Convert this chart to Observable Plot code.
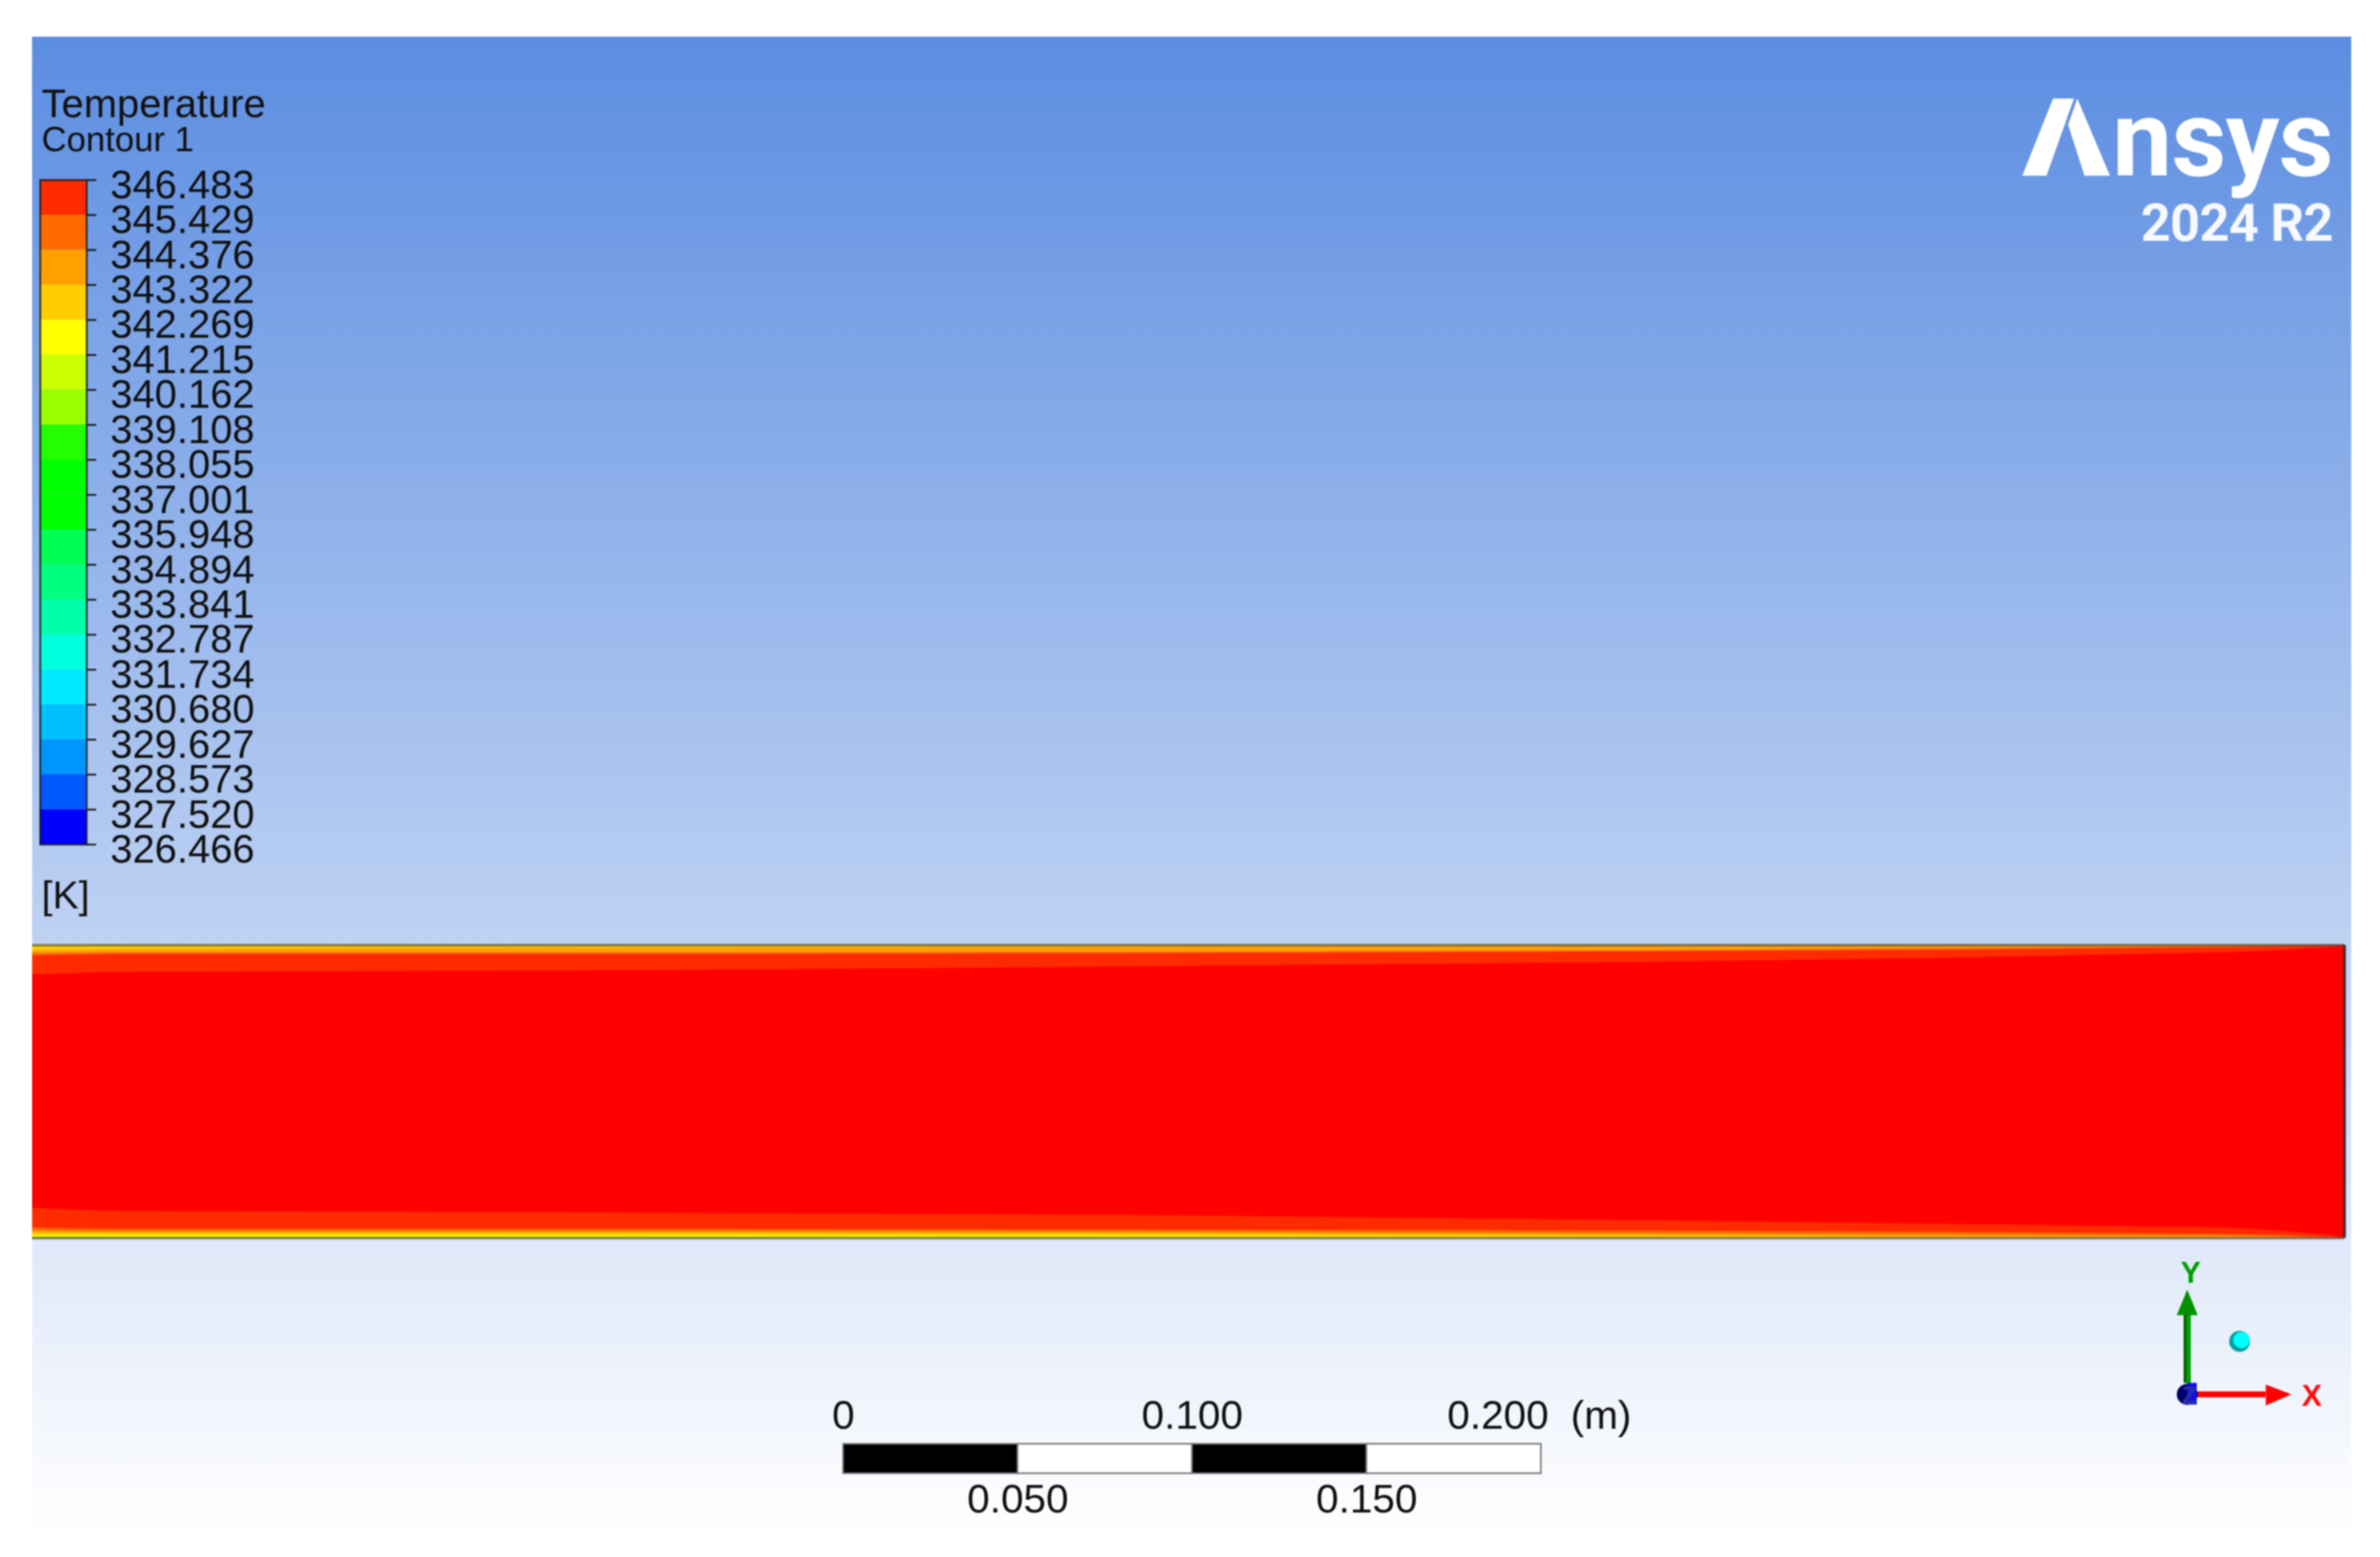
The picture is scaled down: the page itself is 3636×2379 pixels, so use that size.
<!DOCTYPE html>
<html>
<head>
<meta charset="utf-8">
<script src="https://cdn.jsdelivr.net/npm/d3@7"></script>
<script src="https://cdn.jsdelivr.net/npm/@observablehq/plot@0.6"></script>
<style>
html,body{margin:0;padding:0;background:#fff}
#stage{position:relative;width:3636px;height:2379px;overflow:hidden;font-family:"Liberation Sans",Arial,sans-serif}
#logo1,#logo2{position:absolute;color:#fff;text-align:right;font-family:Roboto,sans-serif;font-weight:700;white-space:nowrap}
</style>
</head>
<body>
<div id="stage"></div>
<script>
// Legend
const legendTitle = "Temperature";
const legendSubtitle = "Contour 1";
const legendUnit = "[K]";
const legendTicks = [346.483,345.429,344.376,343.322,342.269,341.215,340.162,339.108,338.055,337.001,335.948,334.894,333.841,332.787,331.734,330.680,329.627,328.573,327.520,326.466];
const bandColors = ["#ff2b00","#ff6a00","#ffa000","#ffcc00","#ffff00","#ccff00","#99ff00","#22ff00","#00ff00","#00ff00","#00ff55","#00ff80","#00ffaa","#00ffdd","#00eaff","#00bfff","#0095ff","#0059ff","#0000ff"];

// Pipe contour: stations along the pipe (m)
const pipeLength = 0.663;
const pipeHalfHeight = 0.042;
const stationX = [0,0.0058,0.0227,0.1034,0.1973,0.3099,0.46,0.5539,0.6289,0.644,0.659,0.663];
// Depth of each contour from the upper wall (mm)
const topBand1 = [8.3,8.3,7.7,7.5,7.1,6.2,4.9,3.6,2.1,1.5,0.6,0.2];
const topBand2 = [3.0,2.8,2.6,2.6,2.6,2.4,1.9,1.3,0.6,0.4,0.1,0];
const topBand3 = [2.3,2.3,2.1,2.1,2.1,2.0,1.5,0.9,0.4,0.2,0,0];
const topBand4 = [1.5,1.5,1.3,0.9,0.8,0.5,0.2,0.1,0,0,0,0];
const topBand5 = [0.3,0.3,0.2,0.1,0,0,0,0,0,0,0,0];
// Depth of each contour from the lower wall (mm)
const botBand1 = [8.6,8.3,7.7,7.5,7.1,6.6,5.1,3.9,3.0,2.1,0.8,0.2];
const botBand2 = [3.0,2.8,2.6,2.6,2.6,2.4,2.1,1.7,1.1,0.8,0.2,0];
const botBand3 = [2.1,2.0,1.9,1.9,1.9,1.8,1.3,0.9,0.6,0.4,0,0];
const botBand4 = [1.5,1.5,1.4,1.4,1.4,1.3,0.8,0.4,0.2,0.1,0,0];
const botBand5 = [0.8,0.8,0.8,0.8,0.7,0.6,0.2,0,0,0,0,0];
const botBand6 = [0.5,0.5,0.5,0.5,0.4,0.3,0,0,0,0,0,0];
const botBand7 = [0.2,0.2,0.2,0.2,0.1,0,0,0,0,0,0,0];

// Scale bar (m)
const scaleStarts = [0,0.05,0.1,0.15];
const scaleFills = ["#000","#fff","#000","#fff"];
const scaleTop = [0,0.1];
const scaleEnd = [0.2];
const scaleBottom = [0.05,0.15];

// Logo and axis triad outlines
const logoLeft = [[3136,150],[3168,150],[3126,268],[3089,268]];
const logoRight = [[3173,150],[3223,268],[3184,268],[3159,190]];
const yHead = [[3341,1970],[3325,2009],[3357,2009]];
const xHead = [[3461,2115],[3500,2130],[3461,2147]];

const stage = document.getElementById("stage");
const place = (el) => stage.appendChild(el);

// Main view: pipe in metres
const M_PER_PX = 1 / 5328;
const mainStyle = {position:"absolute",left:"49px",top:"56px",
  background:"linear-gradient(to bottom,#5b8de1 0%,#ffffff 100%)"};

function wallBand(depth, wall, sign, color){
  const rows = stationX.map((x,i)=>({x, y1:wall, y2:wall + sign*depth[i]/1000}));
  return Plot.areaY(rows,{x:"x",y1:"y1",y2:"y2",fill:color,curve:"linear"});
}
const H = pipeHalfHeight;
place(Plot.plot({
  width:3543, height:2284,
  marginTop:0,marginRight:0,marginBottom:0,marginLeft:0,
  style:mainStyle,
  x:{domain:[0,3543*M_PER_PX],axis:null},
  y:{domain:[-672.5*M_PER_PX,1611.5*M_PER_PX],axis:null},
  marks:[
    Plot.rect([0],{x1:()=>0,x2:()=>pipeLength,y1:()=>-H,y2:()=>H,fill:"#ff0000"}),
    wallBand(topBand1, H,-1,"#ff2b00"),
    wallBand(topBand2, H,-1,"#ff6a00"),
    wallBand(topBand3, H,-1,"#ffa000"),
    wallBand(topBand4, H,-1,"#ffcc00"),
    wallBand(topBand5, H,-1,"#ffff00"),
    wallBand(botBand1,-H, 1,"#ff2b00"),
    wallBand(botBand2,-H, 1,"#ff6a00"),
    wallBand(botBand3,-H, 1,"#ffa000"),
    wallBand(botBand4,-H, 1,"#ffcc00"),
    wallBand(botBand5,-H, 1,"#ffff00"),
    wallBand(botBand6,-H, 1,"#ccff00"),
    wallBand(botBand7,-H, 1,"#99cc00"),
    Plot.ruleY([H,-H],{x1:()=>0,x2:()=>pipeLength,stroke:"#444",strokeOpacity:0.6,strokeWidth:4}),
    Plot.ruleX([pipeLength],{y1:()=>-H,y2:()=>H,stroke:"#222",strokeOpacity:0.85,strokeWidth:4})
  ]
}));

// Colour legend
const bands = bandColors.map((color,i)=>({color,hi:legendTicks[i],lo:legendTicks[i+1]}));
place(Plot.plot({
  width:500,height:1150,
  marginTop:74.6,marginRight:368,marginBottom:60,marginLeft:61,
  style:{position:"absolute",left:"0",top:"200px",background:"transparent",fontFamily:"'Liberation Sans',Arial,sans-serif",color:"#111"},
  x:{axis:null},
  y:{domain:[326.466,346.483],axis:null},
  color:{type:"identity"},
  marks:[
    Plot.rect(bands,{y1:"lo",y2:"hi",fill:"color"}),
    Plot.frame({stroke:"#111",strokeOpacity:0.75,strokeWidth:3}),
    Plot.axisY({anchor:"right",ticks:legendTicks,tickSize:14,fill:"none",strokeWidth:2.5,label:null}),
    Plot.axisY({anchor:"right",ticks:legendTicks,tickSize:0,tickPadding:36,dy:8,fontSize:61,tickFormat:d=>d.toFixed(3),label:null})
  ]
}));

// Scale bar
const segs = scaleStarts.map((s,i)=>({s,e:s+0.05,fill:scaleFills[i]}));
const scaleFmt = d => d===0 ? "0" : d.toFixed(3);
place(Plot.plot({
  width:1400,height:240,
  marginTop:106,marginRight:234,marginBottom:89,marginLeft:100,
  style:{position:"absolute",left:"1188px",top:"2100px",background:"transparent",fontFamily:"'Liberation Sans',Arial,sans-serif",color:"#111"},
  x:{domain:[0,0.2],axis:null},
  y:{axis:null},
  color:{type:"identity"},
  marks:[
    Plot.rect(segs,{x1:"s",x2:"e",fill:"fill",stroke:"#777",strokeWidth:2.5}),
    Plot.axisX({anchor:"top",ticks:scaleTop,tickSize:0,tickPadding:24,fontSize:62,tickFormat:scaleFmt,label:null,lineAnchor:"bottom"}),
    Plot.axisX({anchor:"top",ticks:scaleEnd,tickSize:0,tickPadding:24,dx:-66,fontSize:62,tickFormat:scaleFmt,label:null,lineAnchor:"bottom"}),
    Plot.axisX({anchor:"bottom",ticks:scaleBottom,tickSize:0,tickPadding:15,fontSize:62,tickFormat:scaleFmt,label:null,lineAnchor:"top"}),
    Plot.text(["(m)"],{x:()=>0.2,frameAnchor:"top",lineAnchor:"bottom",dy:-24,dx:45,textAnchor:"start",fontSize:62})
  ]
}));

// Overlay: legend headings, logo mark, triad
const rectRow = (x1,x2,y1,y2,fill)=>Plot.rect([0],{x1:()=>x1,x2:()=>x2,y1:()=>y1,y2:()=>y2,fill});
const lab = (t,x,y,size,fill,weight)=>Plot.text([t],{x:()=>x,y:()=>y,textAnchor:"start",lineAnchor:"bottom",fontSize:size,fill,fontWeight:weight||400});
place(Plot.plot({
  width:3636,height:2379,
  marginTop:0,marginRight:0,marginBottom:0,marginLeft:0,
  style:{position:"absolute",left:"0",top:"0",background:"transparent",fontFamily:"'Liberation Sans',Arial,sans-serif"},
  x:{domain:[0,3636],axis:null},
  y:{domain:[0,2379],range:[0,2379],axis:null},
  marks:[
    lab(legendTitle,63,178,61,"#111"),
    lab(legendSubtitle,63,230,53,"#111"),
    lab(legendUnit,63,1387,60,"#111"),
    Plot.line(logoLeft,{fill:"#fff",stroke:"none"}),
    Plot.line(logoRight,{fill:"#fff",stroke:"none"}),
    // y axis
    rectRow(3336,3347,2008,2113,"#00a000"),
    rectRow(3336,3340,2008,2113,"#005c00"),
    Plot.line(yHead,{fill:"#009000",stroke:"none"}),
    lab("Y",3331,1959,46,"#00a000",700),
    // x axis
    rectRow(3356,3461,2126,2135,"#ff0000"),
    Plot.line(xHead,{fill:"#ff0000",stroke:"none"}),
    lab("X",3516,2147,46,"#ff1010",700),
    // z axis
    Plot.dot([0],{x:()=>3341,y:()=>2130,r:16,fill:"#00006a"}),
    rectRow(3341,3356,2113,2146,"#1010e8"),
    lab("Z",3333,2144,36,"#3030a0",700),
    // origin sphere
    Plot.dot([0],{x:()=>3421,y:()=>2049,r:16,fill:"#00a0a0"}),
    Plot.dot([0],{x:()=>3424,y:()=>2047,r:12.5,fill:"#00ffff"})
  ]
}));

// Logo text
const l1 = document.createElement("div");
l1.id = "logo1";
l1.style.cssText = "right:72px;top:118px;font-size:163px;line-height:190px;letter-spacing:-1px";
l1.innerHTML = '<span style="color:transparent">A</span>nsys';
place(l1);
const l2 = document.createElement("div");
l2.id = "logo2";
l2.style.cssText = "right:72px;top:296px;font-size:80px;line-height:90px;letter-spacing:-1px;opacity:.95";
l2.textContent = "2024 R2";
place(l2);

stage.style.filter = "blur(0.8px)";
</script>
</body>
</html>
